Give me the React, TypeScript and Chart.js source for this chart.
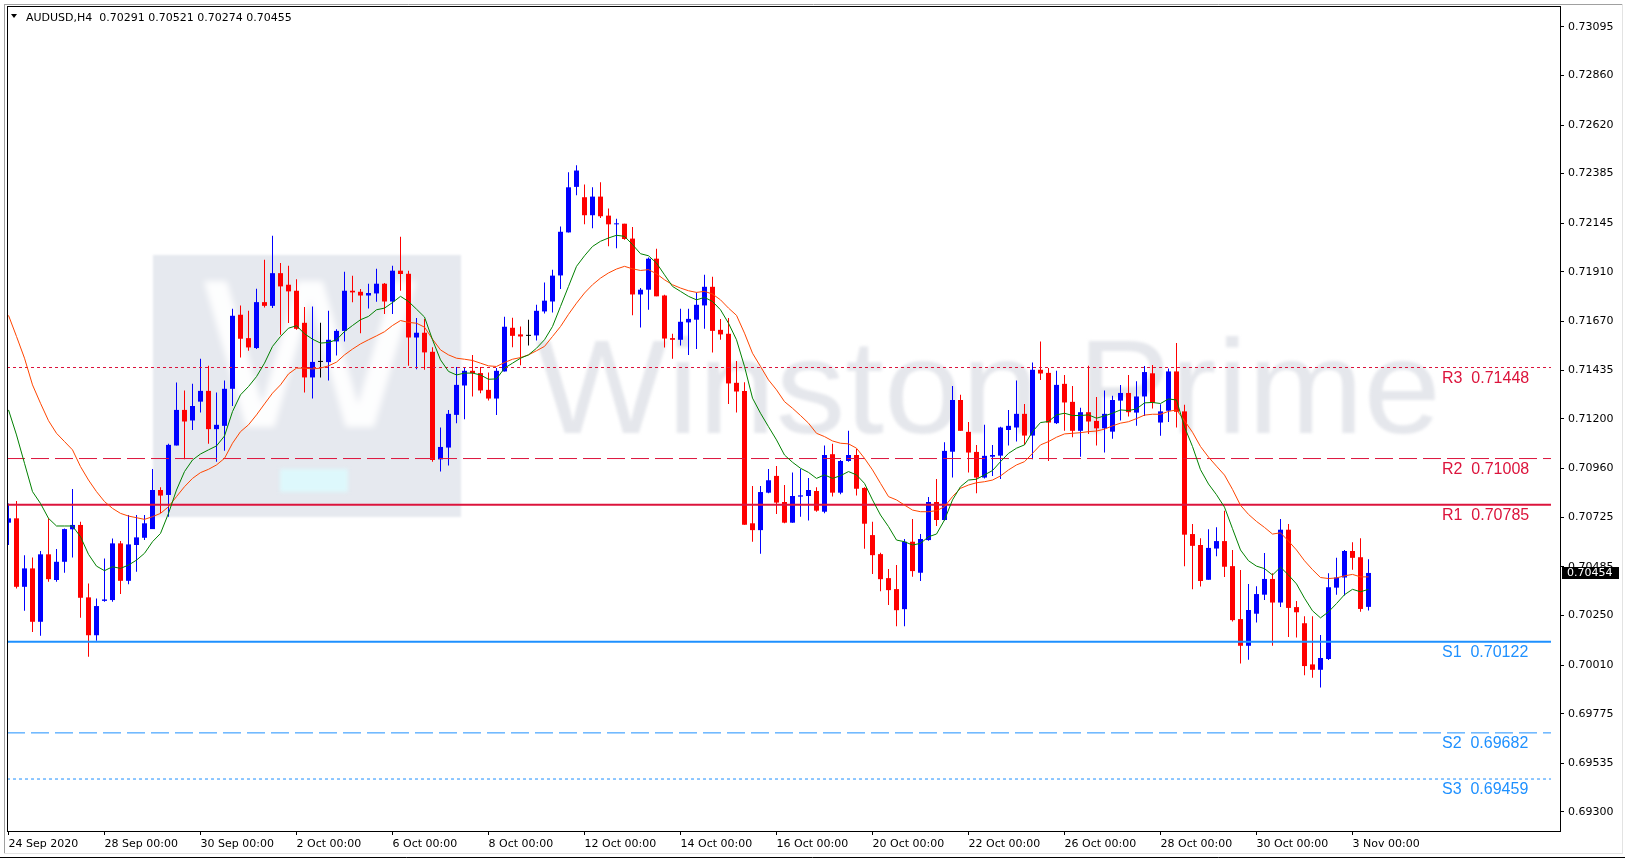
import React, { useEffect, useRef } from "react";
import { Chart, registerables } from "chart.js";

Chart.register(...registerables);

// ---------- data ----------
const symbolLabel = "AUDUSD,H4";
const currentPrice = 0.70454;

const xTickIndex = [1, 13, 25, 37, 49, 61, 73, 85, 97, 109, 121, 133, 145, 157, 169];
const xTickLabels = [
  "24 Sep 2020", "28 Sep 00:00", "30 Sep 00:00", "2 Oct 00:00", "6 Oct 00:00",
  "8 Oct 00:00", "12 Oct 00:00", "14 Oct 00:00", "16 Oct 00:00", "20 Oct 00:00",
  "22 Oct 00:00", "26 Oct 00:00", "28 Oct 00:00", "30 Oct 00:00", "3 Nov 00:00",
];
const yTickValues = [
  0.73095, 0.7286, 0.7262, 0.72385, 0.72145, 0.7191, 0.7167, 0.71435, 0.712,
  0.7096, 0.70725, 0.70485, 0.7025, 0.7001, 0.69775, 0.69535, 0.693,
];

const opens = [
  0.70698, 0.70719, 0.70388, 0.70477, 0.70219, 0.70545, 0.70421, 0.70509, 0.70666, 0.70687,
  0.70337, 0.70154, 0.70320, 0.70324, 0.70598, 0.70417, 0.70590, 0.70625, 0.70667, 0.70856,
  0.70832, 0.71071, 0.71243, 0.71192, 0.71283, 0.71335, 0.71150, 0.71166, 0.71345, 0.71703,
  0.71590, 0.71542, 0.71764, 0.71746, 0.71904, 0.71848, 0.71819, 0.71664, 0.71400, 0.71475,
  0.71474, 0.71574, 0.71625, 0.71819, 0.71814, 0.71796, 0.71806, 0.71853, 0.71767, 0.71916,
  0.71901, 0.71593, 0.71616, 0.71524, 0.71004, 0.71061, 0.71219, 0.71361, 0.71432, 0.71421,
  0.71340, 0.71298, 0.71429, 0.71640, 0.71608, 0.71601, 0.71603, 0.71719, 0.71767, 0.71893,
  0.72101, 0.72321, 0.72271, 0.72184, 0.72274, 0.72182, 0.72140, 0.72143, 0.72071, 0.71801,
  0.71824, 0.71974, 0.71796, 0.71590, 0.71582, 0.71666, 0.71679, 0.71748, 0.71838, 0.71630,
  0.71611, 0.71374, 0.71335, 0.70695, 0.70662, 0.70843, 0.70924, 0.70798, 0.70698, 0.70824,
  0.70827, 0.70851, 0.70751, 0.71029, 0.70843, 0.70996, 0.71025, 0.70866, 0.70638, 0.70546,
  0.70430, 0.70377, 0.70280, 0.70606, 0.70456, 0.70614, 0.70798, 0.70711, 0.71041, 0.71291,
  0.71137, 0.71040, 0.70916, 0.71017, 0.71022, 0.71146, 0.71158, 0.71224, 0.71119, 0.71437,
  0.71422, 0.71179, 0.71369, 0.71282, 0.71142, 0.71232, 0.71190, 0.71154, 0.71138, 0.71288,
  0.71325, 0.71230, 0.71308, 0.71420, 0.71182, 0.71239, 0.71429, 0.71236, 0.70643, 0.70590,
  0.70422, 0.70573, 0.70609, 0.70488, 0.70232, 0.70103, 0.70258, 0.70350, 0.70426, 0.70312,
  0.70664, 0.70290, 0.70212, 0.70013, 0.69987, 0.70039, 0.70384, 0.70433, 0.70561, 0.70531,
  0.70291,
];
const highs = [
  0.70791, 0.70803, 0.70541, 0.70530, 0.70561, 0.70719, 0.70571, 0.70670, 0.70861, 0.70703,
  0.70404, 0.70332, 0.70525, 0.70622, 0.70609, 0.70735, 0.70735, 0.70735, 0.70958, 0.70869,
  0.71079, 0.71375, 0.71337, 0.71369, 0.71490, 0.71456, 0.71327, 0.71385, 0.71732, 0.71748,
  0.71722, 0.71829, 0.71969, 0.72085, 0.71953, 0.71940, 0.71875, 0.71740, 0.71743, 0.71664,
  0.71722, 0.71633, 0.71911, 0.71892, 0.71827, 0.71853, 0.71925, 0.71856, 0.71940, 0.72080,
  0.71916, 0.71687, 0.71683, 0.71546, 0.71158, 0.71243, 0.71450, 0.71450, 0.71508, 0.71450,
  0.71424, 0.71445, 0.71693, 0.71688, 0.71646, 0.71679, 0.71751, 0.71859, 0.71921, 0.72129,
  0.72392, 0.72425, 0.72332, 0.72319, 0.72343, 0.72216, 0.72167, 0.72143, 0.72127, 0.71832,
  0.71980, 0.72022, 0.71800, 0.71611, 0.71732, 0.71732, 0.71811, 0.71896, 0.71887, 0.71683,
  0.71687, 0.71480, 0.71377, 0.70875, 0.70875, 0.70958, 0.70972, 0.70880, 0.70940, 0.70958,
  0.70914, 0.70869, 0.71071, 0.71079, 0.71001, 0.71142, 0.71054, 0.70869, 0.70703, 0.70553,
  0.70474, 0.70493, 0.70619, 0.70716, 0.70643, 0.70822, 0.70909, 0.71087, 0.71359, 0.71316,
  0.71185, 0.71074, 0.71171, 0.71074, 0.71162, 0.71243, 0.71385, 0.71272, 0.71472, 0.71574,
  0.71445, 0.71432, 0.71412, 0.71359, 0.71254, 0.71456, 0.71306, 0.71337, 0.71311, 0.71364,
  0.71412, 0.71382, 0.71455, 0.71460, 0.71270, 0.71443, 0.71567, 0.71268, 0.70692, 0.70623,
  0.70666, 0.70676, 0.70756, 0.70566, 0.70469, 0.70402, 0.70391, 0.70552, 0.70454, 0.70716,
  0.70692, 0.70319, 0.70246, 0.70246, 0.70155, 0.70454, 0.70528, 0.70566, 0.70604, 0.70623,
  0.70521,
];
const lows = [
  0.70590, 0.70380, 0.70272, 0.70170, 0.70151, 0.70412, 0.70412, 0.70456, 0.70530, 0.70238,
  0.70050, 0.70127, 0.70316, 0.70316, 0.70353, 0.70400, 0.70461, 0.70614, 0.70667, 0.70743,
  0.70727, 0.71071, 0.71004, 0.71146, 0.71230, 0.71079, 0.70993, 0.71046, 0.71262, 0.71496,
  0.71529, 0.71538, 0.71738, 0.71735, 0.71606, 0.71663, 0.71630, 0.71327, 0.71298, 0.71400,
  0.71385, 0.71506, 0.71574, 0.71763, 0.71613, 0.71733, 0.71766, 0.71706, 0.71706, 0.71819,
  0.71456, 0.71440, 0.71437, 0.70993, 0.70945, 0.70974, 0.71179, 0.71198, 0.71308, 0.71324,
  0.71288, 0.71219, 0.71429, 0.71546, 0.71459, 0.71554, 0.71579, 0.71709, 0.71714, 0.71827,
  0.72101, 0.72280, 0.72140, 0.72121, 0.72171, 0.72034, 0.72024, 0.72066, 0.71700, 0.71641,
  0.71727, 0.71792, 0.71545, 0.71490, 0.71554, 0.71509, 0.71538, 0.71635, 0.71521, 0.71582,
  0.71272, 0.71230, 0.70688, 0.70606, 0.70548, 0.70840, 0.70740, 0.70695, 0.70698, 0.70727,
  0.70708, 0.70751, 0.70743, 0.70824, 0.70835, 0.70993, 0.70829, 0.70572, 0.70450, 0.70367,
  0.70300, 0.70198, 0.70198, 0.70437, 0.70416, 0.70611, 0.70682, 0.70708, 0.70916, 0.71142,
  0.70940, 0.70840, 0.70912, 0.70924, 0.70909, 0.71071, 0.71090, 0.71074, 0.71004, 0.71388,
  0.70996, 0.71175, 0.71142, 0.71111, 0.71017, 0.71127, 0.71071, 0.71037, 0.71104, 0.71192,
  0.71211, 0.71167, 0.71213, 0.71250, 0.71118, 0.71184, 0.71158, 0.70488, 0.70376, 0.70390,
  0.70422, 0.70536, 0.70436, 0.70220, 0.70017, 0.70036, 0.70215, 0.70324, 0.70103, 0.70290,
  0.70146, 0.70143, 0.69961, 0.69949, 0.69901, 0.70034, 0.70350, 0.70346, 0.70471, 0.70267,
  0.70274,
];
const closes = [
  0.70719, 0.70388, 0.70477, 0.70219, 0.70545, 0.70425, 0.70509, 0.70667, 0.70687, 0.70335,
  0.70154, 0.70295, 0.70327, 0.70598, 0.70417, 0.70593, 0.70627, 0.70695, 0.70856, 0.70829,
  0.71074, 0.71243, 0.71187, 0.71262, 0.71335, 0.71150, 0.71171, 0.71345, 0.71698, 0.71587,
  0.71545, 0.71764, 0.71746, 0.71904, 0.71840, 0.71816, 0.71635, 0.71400, 0.71475, 0.71475,
  0.71582, 0.71625, 0.71819, 0.71811, 0.71796, 0.71808, 0.71853, 0.71767, 0.71916, 0.71900,
  0.71593, 0.71616, 0.71521, 0.71001, 0.71064, 0.71224, 0.71364, 0.71432, 0.71421, 0.71337,
  0.71298, 0.71432, 0.71645, 0.71601, 0.71598, 0.71601, 0.71722, 0.71771, 0.71892, 0.72104,
  0.72319, 0.72400, 0.72184, 0.72274, 0.72179, 0.72140, 0.72143, 0.72069, 0.71801, 0.71824,
  0.71974, 0.71792, 0.71588, 0.71582, 0.71669, 0.71683, 0.71751, 0.71838, 0.71625, 0.71608,
  0.71371, 0.71332, 0.70688, 0.70662, 0.70846, 0.70903, 0.70795, 0.70698, 0.70827, 0.70830,
  0.70856, 0.70756, 0.71025, 0.70843, 0.70996, 0.71025, 0.70862, 0.70693, 0.70541, 0.70425,
  0.70372, 0.70275, 0.70606, 0.70464, 0.70619, 0.70798, 0.70711, 0.71045, 0.71291, 0.71142,
  0.71037, 0.70916, 0.71021, 0.71025, 0.71158, 0.71166, 0.71224, 0.71119, 0.71437, 0.71419,
  0.71182, 0.71364, 0.71279, 0.71142, 0.71232, 0.71187, 0.71154, 0.71224, 0.71291, 0.71325,
  0.71232, 0.71308, 0.71426, 0.71277, 0.71236, 0.71429, 0.71234, 0.70640, 0.70586, 0.70416,
  0.70576, 0.70609, 0.70485, 0.70227, 0.70103, 0.70276, 0.70353, 0.70426, 0.70312, 0.70664,
  0.70286, 0.70265, 0.70005, 0.69987, 0.70044, 0.70386, 0.70433, 0.70561, 0.70528, 0.70281,
  0.70455,
];

// moving averages
const maFast = [
  0.71243, 0.71122, 0.70985, 0.70848, 0.70791, 0.70719, 0.70682, 0.70682, 0.70682, 0.70630,
  0.70545, 0.70488, 0.70466, 0.70485, 0.70477, 0.70493, 0.70517, 0.70550, 0.70606, 0.70646,
  0.70743, 0.70856, 0.70945, 0.71001, 0.71030, 0.71050, 0.71069, 0.71117, 0.71235, 0.71316,
  0.71356, 0.71404, 0.71469, 0.71550, 0.71598, 0.71638, 0.71650, 0.71611, 0.71585, 0.71566,
  0.71569, 0.71582, 0.71622, 0.71651, 0.71679, 0.71695, 0.71727, 0.71735, 0.71762, 0.71792,
  0.71767, 0.71730, 0.71692, 0.71582, 0.71485, 0.71429, 0.71412, 0.71421, 0.71421, 0.71412,
  0.71391, 0.71393, 0.71445, 0.71469, 0.71493, 0.71509, 0.71541, 0.71582, 0.71646, 0.71743,
  0.71840, 0.71937, 0.71988, 0.72033, 0.72058, 0.72074, 0.72087, 0.72082, 0.72042, 0.71998,
  0.71988, 0.71953, 0.71896, 0.71840, 0.71816, 0.71792, 0.71775, 0.71787, 0.71767, 0.71727,
  0.71662, 0.71582, 0.71453, 0.71300, 0.71227, 0.71162, 0.71098, 0.71025, 0.70990, 0.70961,
  0.70941, 0.70912, 0.70929, 0.70912, 0.70925, 0.70945, 0.70929, 0.70888, 0.70808, 0.70735,
  0.70679, 0.70614, 0.70606, 0.70590, 0.70598, 0.70630, 0.70643, 0.70711, 0.70808, 0.70872,
  0.70904, 0.70908, 0.70929, 0.70950, 0.70993, 0.71033, 0.71058, 0.71074, 0.71138, 0.71182,
  0.71187, 0.71219, 0.71227, 0.71216, 0.71216, 0.71219, 0.71203, 0.71214, 0.71227, 0.71243,
  0.71240, 0.71248, 0.71277, 0.71279, 0.71274, 0.71296, 0.71291, 0.71161, 0.71066, 0.70954,
  0.70885, 0.70833, 0.70773, 0.70669, 0.70566, 0.70514, 0.70488, 0.70476, 0.70445, 0.70483,
  0.70445, 0.70402, 0.70333, 0.70272, 0.70238, 0.70267, 0.70307, 0.70350, 0.70376, 0.70364,
  0.70376,
];
const maSlow = [
  0.71700, 0.71598, 0.71493, 0.71364, 0.71275, 0.71191, 0.71130, 0.71090, 0.71050, 0.70969,
  0.70904, 0.70848, 0.70800, 0.70767, 0.70743, 0.70730, 0.70722, 0.70714, 0.70727, 0.70743,
  0.70775, 0.70824, 0.70872, 0.70912, 0.70940, 0.70956, 0.70977, 0.71009, 0.71082, 0.71138,
  0.71171, 0.71219, 0.71272, 0.71324, 0.71364, 0.71417, 0.71445, 0.71445, 0.71441, 0.71445,
  0.71456, 0.71474, 0.71509, 0.71537, 0.71562, 0.71582, 0.71601, 0.71621, 0.71651, 0.71675,
  0.71666, 0.71662, 0.71643, 0.71585, 0.71533, 0.71509, 0.71493, 0.71488, 0.71482, 0.71469,
  0.71456, 0.71453, 0.71472, 0.71488, 0.71496, 0.71509, 0.71529, 0.71550, 0.71598, 0.71646,
  0.71705, 0.71759, 0.71808, 0.71848, 0.71880, 0.71905, 0.71924, 0.71937, 0.71925, 0.71917,
  0.71921, 0.71901, 0.71872, 0.71848, 0.71832, 0.71819, 0.71811, 0.71816, 0.71803, 0.71775,
  0.71735, 0.71700, 0.71614, 0.71517, 0.71453, 0.71388, 0.71340, 0.71283, 0.71251, 0.71216,
  0.71179, 0.71130, 0.71114, 0.71093, 0.71082, 0.71079, 0.71058, 0.71009, 0.70953, 0.70888,
  0.70824, 0.70808, 0.70783, 0.70759, 0.70751, 0.70751, 0.70756, 0.70775, 0.70824, 0.70864,
  0.70880, 0.70891, 0.70896, 0.70904, 0.70924, 0.70953, 0.70977, 0.70993, 0.71033, 0.71074,
  0.71090, 0.71111, 0.71127, 0.71130, 0.71133, 0.71138, 0.71141, 0.71150, 0.71166, 0.71179,
  0.71186, 0.71201, 0.71218, 0.71222, 0.71222, 0.71236, 0.71243, 0.71191, 0.71135, 0.71066,
  0.71015, 0.70971, 0.70928, 0.70859, 0.70782, 0.70738, 0.70704, 0.70675, 0.70643, 0.70649,
  0.70609, 0.70566, 0.70514, 0.70471, 0.70433, 0.70428, 0.70431, 0.70441, 0.70448, 0.70436,
  0.70436,
];

const levelNames = ["R3", "R2", "R1", "S1", "S2", "S3"];
const levelValues = [0.71448, 0.71008, 0.70785, 0.70122, 0.69682, 0.69459];

// ---------- layout / style ----------
const W = 1632;
const H = 867;
const AREA = { left: 7, top: 7, right: 1561, bottom: 831 };
const X_MIN = 0.8125;
const X_MAX = 195.0625;
const LEVEL_END = 193.81;
const Y_MIN = 0.692078;
const Y_MAX = 0.731904;

const BULL = "#0000FF";
const BEAR = "#FF0000";
const DOJI = "#000000";
const RES_COLOR = "#DC143C";
const SUP_COLOR = "#1E90FF";
const levelStyles = [
  { color: RES_COLOR, width: 1, dash: [3, 3] },
  { color: RES_COLOR, width: 1, dash: [18, 6] },
  { color: RES_COLOR, width: 2, dash: [] },
  { color: SUP_COLOR, width: 2, dash: [] },
  { color: SUP_COLOR, width: 1, dash: [18, 6] },
  { color: SUP_COLOR, width: 1, dash: [3, 3] },
];
const AXIS_FONT = { family: '"DejaVu Sans"', size: 11 };

const candleColors = opens.map((o, i) =>
  closes[i] > o ? BULL : closes[i] < o ? BEAR : DOJI
);

const decorPlugin = {
  id: "mt4decor",
  beforeDatasetsDraw(chart: any) {
    const ctx = chart.ctx;
    const a = chart.chartArea;
    ctx.save();
    ctx.beginPath();
    ctx.rect(a.left, a.top, a.right - a.left, a.bottom - a.top);
    ctx.clip();
    // logo box
    ctx.filter = "blur(1px)";
    ctx.fillStyle = "#E6E9EF";
    ctx.fillRect(153, 255, 308, 262);
    ctx.save();
    ctx.filter = "blur(3px)";
    ctx.fillStyle = "rgba(255,255,255,0.92)";
    ctx.font = '200px "DejaVu Sans"';
    ctx.textAlign = "center";
    ctx.textBaseline = "alphabetic";
    ctx.translate(310, 427);
    ctx.scale(1.15, 1);
    ctx.fillText("W", 0, 0);
    ctx.restore();
    ctx.filter = "blur(2px)";
    ctx.fillStyle = "#DDF8FC";
    ctx.fillRect(280, 469, 68, 23);
    // watermark text
    ctx.filter = "blur(1.5px)";
    ctx.fillStyle = "#E5E7EC";
    ctx.font = '133px "Liberation Sans"';
    ctx.textAlign = "left";
    ctx.textBaseline = "alphabetic";
    const tw = ctx.measureText("Winston Prime").width;
    ctx.translate(536, 433);
    ctx.scale(905 / tw, 1);
    ctx.fillText("Winston Prime", 0, 0);
    ctx.restore();
  },
  afterDraw(chart: any) {
    const ctx = chart.ctx;
    const y = chart.scales.y;
    ctx.save();
    // window borders
    ctx.lineWidth = 1;
    ctx.strokeStyle = "#A0A0A0";
    ctx.beginPath();
    ctx.moveTo(4.5, 4);
    ctx.lineTo(4.5, 854);
    ctx.moveTo(4, 4.5);
    ctx.lineTo(1623, 4.5);
    ctx.stroke();
    ctx.strokeStyle = "#E3E3E3";
    ctx.beginPath();
    ctx.moveTo(1622.5, 4);
    ctx.lineTo(1622.5, 854);
    ctx.moveTo(4, 853.5);
    ctx.lineTo(1623, 853.5);
    ctx.stroke();
    ctx.strokeStyle = "#000";
    ctx.beginPath();
    ctx.moveTo(0, 857.5);
    ctx.lineTo(1625, 857.5);
    ctx.stroke();
    // chart frame
    ctx.strokeRect(7.5, 6.5, 1553, 825);

    // header
    ctx.fillStyle = "#000";
    ctx.beginPath();
    ctx.moveTo(11, 14);
    ctx.lineTo(17, 14);
    ctx.lineTo(14, 18);
    ctx.closePath();
    ctx.fill();
    const n = opens.length - 1;
    ctx.font = '11px "DejaVu Sans"';
    ctx.textAlign = "left";
    ctx.textBaseline = "alphabetic";
    ctx.fillText(
      `${symbolLabel}  ${opens[n].toFixed(5)} ${highs[n].toFixed(5)} ${lows[n].toFixed(5)} ${closes[n].toFixed(5)}`,
      26,
      21
    );

    // level labels
    ctx.font = '16px "Liberation Sans"';
    levelValues.forEach((v, i) => {
      ctx.fillStyle = levelStyles[i].color;
      ctx.fillText(`${levelNames[i]}  ${v.toFixed(5)}`, 1442, y.getPixelForValue(v) + 15);
    });

    // current price tag
    const py = Math.round(y.getPixelForValue(currentPrice));
    ctx.fillStyle = "#000";
    ctx.fillRect(1562, py - 6, 57, 12);
    ctx.fillStyle = "#FFF";
    ctx.font = '11px "DejaVu Sans"';
    ctx.textBaseline = "middle";
    ctx.fillText(currentPrice.toFixed(5), 1567, py);
    ctx.restore();
  },
};

export default function App() {
  const ref = useRef<HTMLCanvasElement>(null);

  useEffect(() => {
    const canvas = ref.current;
    if (!canvas) return;

    const levelSets = levelValues.map((v, i) => ({
      type: "line" as const,
      label: levelNames[i],
      data: [
        { x: X_MIN, y: v },
        { x: LEVEL_END, y: v },
      ],
      borderColor: levelStyles[i].color,
      borderWidth: levelStyles[i].width,
      borderDash: levelStyles[i].dash,
      pointRadius: 0,
      tension: 0,
      order: 3,
    }));

    const chart = new Chart(canvas, {
      type: "bar",
      data: {
        datasets: [
          {
            type: "bar",
            label: "wicks",
            data: opens.map((_, i) => ({ x: i + 1, y: [lows[i], highs[i]] })) as any,
            backgroundColor: candleColors,
            grouped: false,
            barPercentage: 1,
            categoryPercentage: 1,
            maxBarThickness: 1,
            borderWidth: 0,
            inflateAmount: 0,
            order: 5,
          } as any,
          {
            type: "bar",
            label: "bodies",
            data: opens.map((o, i) => ({ x: i + 1, y: [o, closes[i]] })) as any,
            backgroundColor: candleColors,
            grouped: false,
            barPercentage: 1,
            categoryPercentage: 1,
            maxBarThickness: 5,
            minBarLength: 1,
            borderWidth: 0,
            inflateAmount: 0,
            order: 4,
          } as any,
          ...(levelSets as any[]),
          {
            type: "line",
            label: "MA slow",
            data: maSlow.map((v, i) => ({ x: i + 1, y: v })),
            borderColor: "#FF4500",
            borderWidth: 1,
            pointRadius: 0,
            tension: 0,
            order: 2,
          } as any,
          {
            type: "line",
            label: "MA fast",
            data: maFast.map((v, i) => ({ x: i + 1, y: v })),
            borderColor: "#008000",
            borderWidth: 1,
            pointRadius: 0,
            tension: 0,
            order: 1,
          } as any,
        ],
      },
      options: {
        responsive: false,
        animation: false,
        devicePixelRatio: 1,
        events: [],
        layout: { padding: { left: AREA.left, top: AREA.top, right: 0, bottom: 0 } },
        plugins: {
          legend: { display: false },
          tooltip: { enabled: false },
        },
        scales: {
          x: {
            type: "linear",
            position: "bottom",
            offset: false,
            min: X_MIN,
            max: X_MAX,
            bounds: "data",
            afterBuildTicks: (s: any) => {
              s.ticks = xTickIndex.map((v) => ({ value: v }));
            },
            afterFit: (s: any) => {
              s.height = H - AREA.bottom;
              s.paddingLeft = 0;
              s.paddingRight = 0;
            },
            grid: {
              display: true,
              offset: false,
              drawOnChartArea: false,
              drawTicks: true,
              tickLength: 4,
              color: "#000",
              lineWidth: 1,
            },
            border: { display: false },
            ticks: {
              autoSkip: false,
              maxRotation: 0,
              minRotation: 0,
              align: "start",
              padding: 3,
              color: "#000",
              font: AXIS_FONT,
              callback: (_v: any, i: number) => xTickLabels[i] ?? "",
            },
          } as any,
          y: {
            type: "linear",
            position: "right",
            offset: false,
            min: Y_MIN,
            max: Y_MAX,
            bounds: "data",
            afterBuildTicks: (s: any) => {
              s.ticks = yTickValues.map((v) => ({ value: v }));
            },
            afterFit: (s: any) => {
              s.width = W - AREA.right;
              s.paddingTop = 0;
              s.paddingBottom = 0;
            },
            grid: {
              display: true,
              drawOnChartArea: false,
              drawTicks: true,
              tickLength: 3,
              color: "#000",
              lineWidth: 1,
            },
            border: { display: false },
            ticks: {
              autoSkip: false,
              padding: 4,
              color: "#000",
              font: AXIS_FONT,
              callback: (v: any) => Number(v).toFixed(5),
            },
          } as any,
        },
      },
      plugins: [decorPlugin],
    });

    return () => chart.destroy();
  }, []);

  return (
    <div
      style={{
        position: "fixed",
        left: 0,
        top: 0,
        width: W,
        height: H,
        background: "#FFFFFF",
      }}
    >
      <canvas ref={ref} width={W} height={H} style={{ display: "block", width: W, height: H }} />
    </div>
  );
}
